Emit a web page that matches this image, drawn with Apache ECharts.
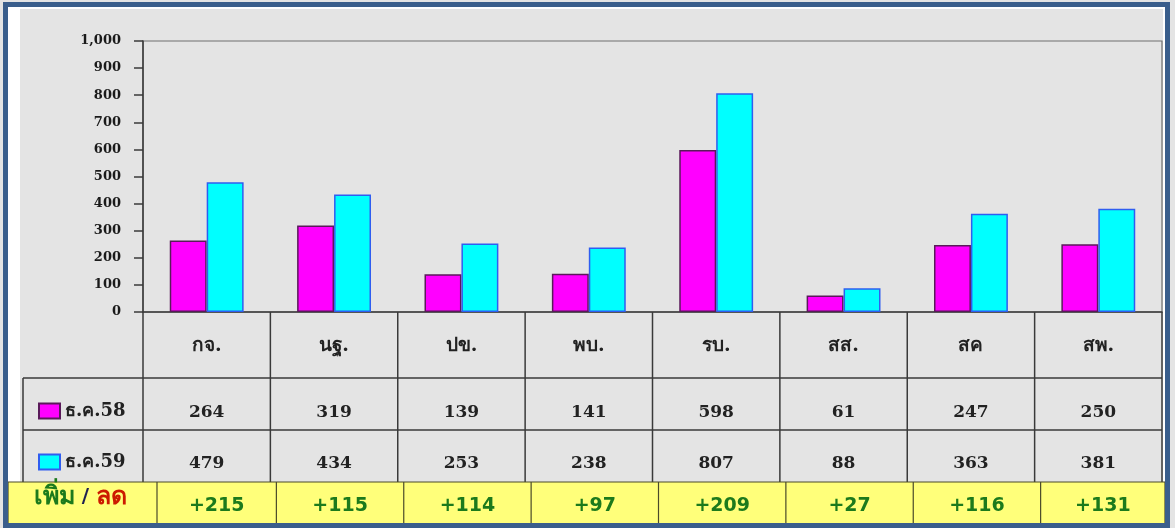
<!DOCTYPE html>
<html><head><meta charset="utf-8">
<script src="https://cdn.jsdelivr.net/npm/echarts@6/dist/echarts.min.js"></script>
<style>html,body{margin:0;padding:0;background:#fff}#c{width:1175px;height:528px}</style>
</head><body><div id="c"></div>
<script>
// ---- data ----
const categories = ['กจ.', 'นฐ.', 'ปข.', 'พบ.', 'รบ.', 'สส.', 'สค', 'สพ.'];
const seriesNames = ['ธ.ค.58', 'ธ.ค.59'];
const dec58 = [264, 319, 139, 141, 598, 61, 247, 250];
const dec59 = [479, 434, 253, 238, 807, 88, 363, 381];
const changeLabels = ['+215', '+115', '+114', '+97', '+209', '+27', '+116', '+131'];
const changeTitle = ['เพิ่ม', '/', 'ลด'];
const yMin = 0, yMax = 1000, yStep = 100;

// ---- layout / style ----
const SERIF = '"DejaVu Serif", "Liberation Serif", serif';
const SANS = '"DejaVu Sans", "Noto Sans", sans-serif';
const LINE = '#3a3a3a';
const chart = echarts.init(document.getElementById('c'), null, {renderer: 'canvas'});

chart.setOption({
  animation: false,
  backgroundColor: '#E4E4E4',
  grid: {left: 143, right: 13, top: 41, bottom: 216, show: true, borderColor: '#6e6e6e', borderWidth: 1.2, backgroundColor: 'transparent', outerBoundsMode: 'none'},
  legend: {
    orient: 'vertical', left: 33, top: 396, itemWidth: 21, itemHeight: 15, itemGap: 31,
    icon: 'rect', selectedMode: false,
    textStyle: {fontFamily: SERIF, fontWeight: 'bold', fontSize: 18, color: '#222', lineHeight: 20},
    data: seriesNames
  },
  xAxis: {
    type: 'category', data: categories,
    axisLine: {lineStyle: {color: LINE, width: 1.5}},
    axisTick: {show: false}, axisLabel: {show: false}, splitLine: {show: false}
  },
  yAxis: {
    type: 'value', min: yMin, max: yMax, interval: yStep,
    axisLine: {show: true, lineStyle: {color: LINE, width: 1.5}},
    axisTick: {show: true, length: 9, lineStyle: {color: LINE, width: 1.5}},
    splitLine: {show: false},
    axisLabel: {formatter: v => v.toLocaleString('en-US'), fontFamily: SERIF, fontWeight: 'bold', fontSize: 13, color: '#1a1a1a', margin: 22}
  },
  series: [
    {name: seriesNames[0], type: 'bar', data: dec58, barWidth: '29%', barGap: '0%',
     itemStyle: {color: '#FF00FF', borderColor: '#5a1a5a', borderWidth: 1.5}},
    {name: seriesNames[1], type: 'bar', data: dec59, barWidth: '29%', barGap: '0%',
     itemStyle: {color: '#00FFFF', borderColor: '#2f5df0', borderWidth: 1.5}}
  ]
});

function buildTable() {
  const c0 = chart.convertToPixel({xAxisIndex: 0}, 0);
  const c1 = chart.convertToPixel({xAxisIndex: 0}, 1);
  const band = c1 - c0;
  const yZero = chart.convertToPixel({yAxisIndex: 0}, yMin);
  const left = c0 - band / 2;
  const right = left + band * categories.length;
  const rowH = [yZero, yZero + 66, yZero + 118, yZero + 170]; // header, row1, row2, yellow top
  const yellowBottom = 525;
  const legendLeft = 23;
  const els = [];
  const line = (x1, y1, x2, y2, color, w, z) => els.push({type: 'line', z: z || 20, shape: {x1, y1, x2, y2}, style: {stroke: color || LINE, lineWidth: w || 1.5}});
  const text = (x, y, t, font, fill, align, z) => els.push({type: 'text', z: z || 30, x, y, style: {text: t, font, fill, textAlign: align || 'center', textVerticalAlign: 'middle'}});

  // white inner margins
  els.push({type: 'rect', z: 5, shape: {x: 8, y: 7, width: 12, height: 480}, style: {fill: '#fff'}});
  els.push({type: 'rect', z: 5, shape: {x: 8, y: 7, width: 1157, height: 2}, style: {fill: '#fff'}});
  els.push({type: 'rect', z: 5, shape: {x: right + 1, y: 7, width: 1165 - right - 1, height: 480}, style: {fill: '#fff'}});

  // table grid lines
  for (let i = 0; i <= categories.length; i++) {
    const x = left + i * band;
    line(x, yZero, x, rowH[3]);
  }
  line(legendLeft, rowH[1], right, rowH[1]);
  line(legendLeft, rowH[2], right, rowH[2]);
  line(legendLeft, rowH[1], legendLeft, rowH[3]);

  // table texts
  for (let i = 0; i < categories.length; i++) {
    const cx = chart.convertToPixel({xAxisIndex: 0}, i);
    text(cx, (rowH[0] + rowH[1]) / 2 + 1, categories[i], 'bold 19px ' + SERIF, '#222');
    text(cx, (rowH[1] + rowH[2]) / 2 + 9, String(dec58[i]), 'bold 17px ' + SERIF, '#222');
    text(cx, (rowH[2] + rowH[3]) / 2 + 8, String(dec59[i]), 'bold 17px ' + SERIF, '#222');
  }

  // yellow change row
  const yTop = rowH[3];
  els.push({type: 'rect', z: 40, shape: {x: 8, y: yTop, width: 1157, height: yellowBottom - yTop}, style: {fill: '#FFFF7A', stroke: '#4a4a2a', lineWidth: 1.2}});
  const dividers = [left + 14];
  for (let i = 1; i < categories.length; i++) dividers.push(left + i * band + 6);
  dividers.push(1165);
  dividers.forEach((x, i) => { if (i < dividers.length - 1) line(x, yTop, x, yellowBottom, '#4a4a2a', 1.2, 45); });
  for (let i = 0; i < categories.length; i++) {
    const cx = (dividers[i] + dividers[i + 1]) / 2;
    text(cx, yTop + 24, changeLabels[i], 'bold 19px ' + SANS, '#1c7a1c', 'center', 50);
  }
  const tf = {fontSize: 25, fontWeight: 'bold', fontFamily: SANS};
  els.push({type: 'text', z: 50, x: (8 + dividers[0]) / 2 - 2, y: yTop + 15,
    style: {
      text: '{g|' + changeTitle[0] + '} {s|' + changeTitle[1] + '} {r|' + changeTitle[2] + '}',
      textAlign: 'center', textVerticalAlign: 'middle', fontSize: 20, fontFamily: SANS,
      rich: {
        g: Object.assign({fill: '#1c7a1c'}, tf),
        s: Object.assign({fill: '#1f2050', fontSize: 20, fontWeight: 'bold', fontFamily: SANS}),
        r: Object.assign({fill: '#cc1a00'}, tf)
      }
    }});

  // outer blue frame
  els.push({type: 'rect', z: 60, shape: {x: 5.5, y: 4.5, width: 1162, height: 521}, style: {fill: 'none', stroke: '#3a5e8c', lineWidth: 5}});

  chart.setOption({graphic: {elements: els}});
}
buildTable();
</script>
</body></html>
